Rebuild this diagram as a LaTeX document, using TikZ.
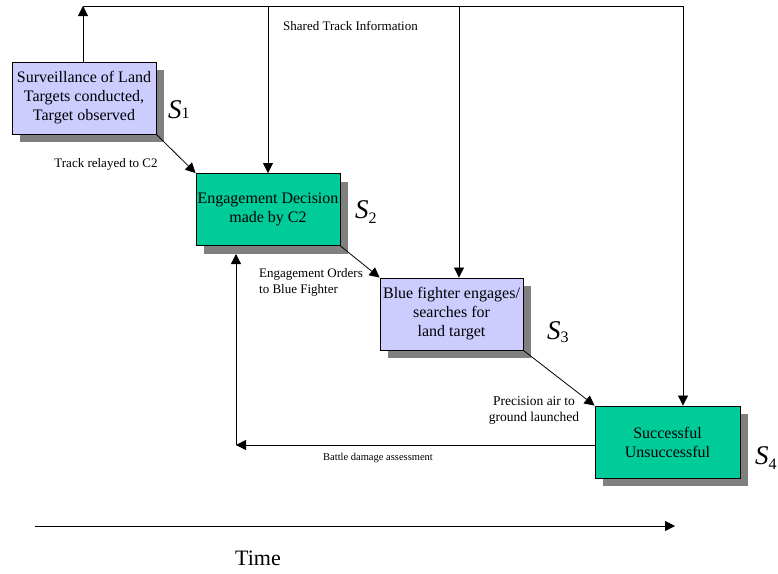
\documentclass[tikz,border=0pt]{standalone}
\usepackage{fontspec}
\setmainfont{Liberation Serif}
\usetikzlibrary{arrows.meta,shadows}
\definecolor{lav}{HTML}{CCCCFF}
\definecolor{grn}{HTML}{00CC99}
\definecolor{shd}{HTML}{808080}
\newcommand{\Slab}[3]{{\fontsize{27}{27}\selectfont\textit{S}\raisebox{-#3pt}{\fontsize{16}{16}\selectfont #2}}}
\begin{document}
\begin{tikzpicture}[x=1pt,y=-1pt,
  box/.style={draw=black, line width=0.9pt, minimum width=144pt, minimum height=72pt,
    inner sep=0pt, align=center, font=\fontsize{16}{19}\selectfont,
    drop shadow={shadow xshift=8pt, shadow yshift=-8pt, fill=shd, opacity=1}},
  arr/.style={-{Triangle[length=10pt,width=10pt]}, line width=0.8pt},
  ln/.style={line width=0.8pt},
  lbl/.style={font=\fontsize{13}{16}\selectfont, inner sep=0pt, align=center},
  slbl/.style={inner sep=0pt, anchor=base west}]
\useasboundingbox (0,0) rectangle (778,573);

% boxes
\node[box, fill=lav] (b1) at (84,98) {Surveillance of Land\\Targets conducted,\\Target observed};
\node[box, fill=grn] (b2) at (268,209.5) {Engagement Decision\\made by C2};
\node[box, fill=lav, minimum width=143pt] (b3) at (451.5,314) {Blue fighter engages/\\searches for\\land target};
\node[box, fill=grn, minimum width=145pt] (b4) at (667.5,442) {Successful\\Unsuccessful};

% state labels
\node[slbl] (s1) at (168,118) {\Slab{S}{1}{0}};
\node[slbl] (s2) at (355,218) {\Slab{S}{2}{5}};
\node[slbl] (s3) at (547,339) {\Slab{S}{3}{3}};
\node[slbl] (s4) at (755,464) {\Slab{S}{4}{5}};

% coordinates
\coordinate (top1) at (83,6);
\coordinate (top2) at (268,6);
\coordinate (top3) at (459,6);
\coordinate (top4) at (683,6);
\coordinate (corner) at (236,445);
\coordinate (bdaend) at (236,254);
\coordinate (t0) at (35,526);
\coordinate (t1) at (675,526);

% shared track information
\draw[arr] (b1.north -| top1) -- (top1);
\draw[ln] (top1) -- (top4);
\draw[arr] (top2) -- (top2 |- b2.north);
\draw[arr] (top3) -- (top3 |- b3.north);
\draw[arr] (top4) -- (top4 |- b4.north);

% main flow
\draw[arr] (b1.south east) -- (b2.north west);
\draw[arr] (b2.south east) -- (b3.north west);
\draw[arr] (b3.south east) -- (b4.north west);

% battle damage assessment
\draw[arr] (corner -| b4.west) -- (corner);
\draw[arr] (corner) -- (bdaend);

% time axis
\draw[arr] (t0) -- (t1);

% labels
\node[lbl, anchor=west] (lshared) at (283,26) {Shared Track Information};
\node[lbl] (ltrack) at (106,164) {Track relayed to C2};
\node[lbl, align=left, anchor=west] (lorders) at (259,282) {Engagement Orders\\to Blue Fighter};
\node[lbl, font=\fontsize{13.5}{16}\selectfont] (lprec) at (534,410) {Precision air to\\ground launched};
\node[lbl, font=\fontsize{10.5}{12}\selectfont] (lbda) at (378,458) {Battle damage assessment};
\node[lbl, font=\fontsize{22}{24}\selectfont] (ltime) at (258,558) {Time};
\end{tikzpicture}
\end{document}
